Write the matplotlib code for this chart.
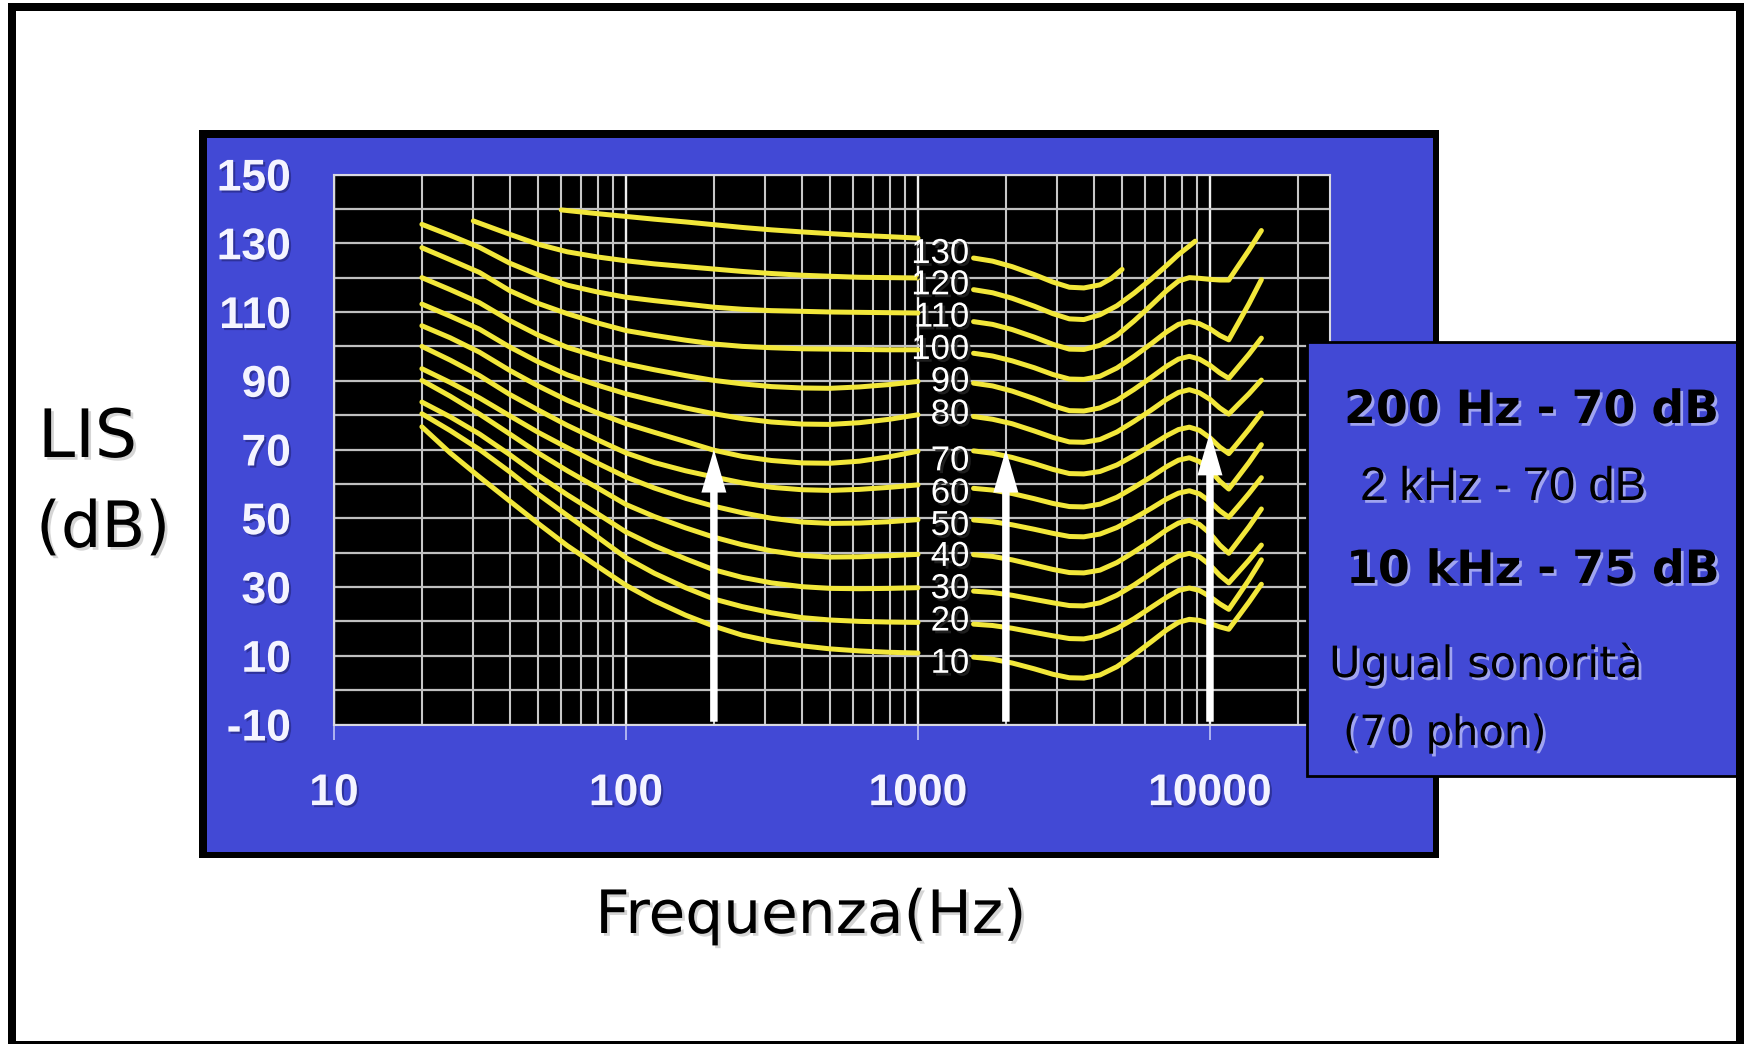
import matplotlib.pyplot as plt
import matplotlib.patheffects as pe
from matplotlib.patches import Rectangle
from matplotlib.ticker import FixedLocator, NullFormatter, LogLocator

# equal-loudness contours, phon levels
levels = [10, 20, 30, 40, 50, 60, 70, 80, 90, 100, 110, 120, 130]

# low/mid band (up to 1 kHz) and high band (from ~1.5 kHz), in dB
f_lo = [20, 25, 31.5, 40, 50, 63, 80, 100, 125, 160, 200, 250, 315, 400, 500, 630, 800, 1000]
f_hi = [1550, 1800, 2100, 2500, 2900, 3300, 3700, 4200, 4800, 5500, 6300, 7100, 7800, 8500,
        9200, 10000, 10800, 11600, 12500, 13600, 15000]

lo_10 = [76.6, 69.0, 62.0, 55.0, 48.5, 42.0, 36.0, 30.5, 26.0, 21.8, 18.6, 16.0, 14.2, 12.9, 12.0, 11.4, 11.0, 10.8]
lo_20 = [80.4, 75.5, 70.0, 63.5, 57.0, 50.8, 44.5, 38.5, 34.0, 29.8, 26.5, 24.3, 22.5, 21.1, 20.4, 20.0, 19.8, 19.7]
lo_30 = [83.8, 79.5, 74.5, 68.5, 62.5, 56.8, 51.3, 46.0, 42.0, 38.2, 35.0, 32.8, 31.2, 30.1, 29.6, 29.5, 29.6, 29.8]
lo_40 = [90.1, 85.5, 80.3, 74.5, 69.0, 63.8, 58.8, 54.0, 50.5, 47.2, 44.5, 42.3, 40.5, 39.2, 38.7, 38.8, 39.1, 39.5]
lo_50 = [93.5, 89.5, 85.0, 79.8, 75.0, 70.5, 66.0, 62.0, 58.8, 55.8, 53.5, 51.6, 50.0, 48.9, 48.5, 48.6, 49.0, 49.6]
lo_60 = [100.0, 96.0, 91.5, 86.0, 81.5, 77.0, 72.8, 69.0, 66.2, 63.8, 62.0, 60.3, 59.0, 58.3, 58.1, 58.4, 59.0, 59.7]
lo_70 = [106.0, 102.5, 98.3, 93.0, 88.5, 84.3, 80.6, 77.5, 75.0, 72.3, 69.8, 68.0, 66.8, 66.1, 66.0, 66.6, 67.9, 69.5]
lo_80 = [112.3, 108.8, 105.0, 99.8, 95.5, 91.7, 88.7, 86.2, 84.2, 82.1, 80.4, 79.0, 78.0, 77.4, 77.3, 77.8, 78.8, 80.1]
lo_90 = [120.0, 116.5, 112.7, 107.5, 103.3, 99.7, 97.0, 94.9, 93.2, 91.5, 90.1, 89.1, 88.3, 87.9, 87.8, 88.2, 88.9, 89.8]
lo_100 = [128.7, 125.2, 121.5, 116.2, 112.5, 109.5, 106.8, 104.6, 103.2, 101.8, 100.7, 100.0, 99.6, 99.3, 99.2, 99.1, 99.0, 99.0]
lo_110 = [135.5, 132.3, 128.8, 124.2, 120.8, 117.8, 115.8, 114.3, 113.3, 112.3, 111.4, 110.8, 110.4, 110.2, 110.0, 109.9, 109.8, 109.7]

hi_10 = [9.6, 9.0, 7.9, 6.2, 4.6, 3.6, 3.5, 4.4, 6.8, 10.3, 14.1, 17.5, 19.7, 20.6,
         20.3, 19.4, 18.4, 17.7, 21.4, 25.6, 30.8]
hi_20 = [19.2, 18.8, 18.0, 16.8, 15.8, 15.0, 14.9, 15.8, 17.9, 20.8, 24.1, 27.0, 29.0, 29.7,
         29.0, 27.2, 25.1, 23.5, 27.5, 32.1, 37.9]
hi_30 = [28.8, 28.4, 27.6, 26.4, 25.4, 24.6, 24.5, 25.4, 27.6, 30.6, 34.0, 37.0, 39.0, 39.8,
         38.8, 36.4, 33.4, 31.2, 34.3, 37.8, 42.2]
hi_40 = [39.4, 38.9, 37.9, 36.4, 35.1, 34.2, 34.1, 34.9, 37.1, 40.2, 43.5, 46.6, 48.6, 49.4,
         48.2, 45.6, 42.2, 39.8, 43.4, 47.5, 52.7]
hi_50 = [49.5, 49.0, 48.1, 46.8, 45.6, 44.7, 44.6, 45.4, 47.3, 50.0, 52.9, 55.6, 57.3, 58.0,
         57.1, 54.9, 52.2, 50.3, 53.5, 57.2, 61.8]
hi_60 = [58.7, 58.2, 57.2, 55.7, 54.3, 53.4, 53.3, 54.1, 56.1, 59.0, 62.1, 65.0, 66.9, 67.6,
         66.5, 64.0, 60.8, 58.5, 62.1, 66.2, 71.4]
hi_70 = [69.6, 68.9, 67.7, 65.9, 64.2, 63.0, 62.9, 63.6, 65.5, 68.3, 71.3, 74.0, 75.8, 76.5,
         75.6, 73.4, 70.7, 68.8, 72.1, 75.9, 80.6]
hi_80 = [79.6, 78.8, 77.5, 75.4, 73.5, 72.2, 72.1, 72.9, 75.1, 78.2, 81.5, 84.6, 86.6, 87.4,
         86.5, 84.6, 82.1, 80.3, 83.1, 86.2, 90.2]
hi_90 = [89.3, 88.5, 87.0, 84.8, 82.7, 81.3, 81.2, 82.1, 84.3, 87.5, 91.0, 94.2, 96.3, 97.1,
         96.3, 94.5, 92.3, 90.7, 94.0, 97.7, 102.4]
hi_100 = [98.0, 97.2, 95.8, 93.8, 91.8, 90.5, 90.4, 91.3, 93.7, 97.1, 100.8, 104.2, 106.4, 107.2,
          106.6, 105.1, 103.2, 101.9, 106.8, 112.4, 119.4]
hi_110 = [107.2, 106.4, 104.9, 102.7, 100.6, 99.2, 99.1, 100.3, 103.2, 107.4, 112.0, 116.2, 119.0, 120.0,
          119.8, 119.5, 119.3, 119.3, 123.4, 128.0, 133.7]

# the two loudest contours are shorter
f_lo_120 = [30, 40, 50, 63, 80, 100, 125, 160, 200, 250, 315, 400, 500, 630, 800, 1000]
lo_120 = [136.5, 132.6, 129.7, 127.5, 126.0, 124.9, 124.0, 123.2, 122.5, 121.8, 121.2, 120.7, 120.4, 120.1, 120.0, 119.9]
f_hi_120 = [1550, 1800, 2100, 2500, 2900, 3300, 3700, 4200, 4800, 5500, 6300, 7100, 7800, 8500, 8900]
hi_120 = [116.5, 115.6, 114.0, 111.7, 109.5, 108.0, 107.8, 109.2, 111.8, 115.5, 119.6, 123.5, 126.7, 129.2, 130.6]

f_lo_130 = [60, 80, 100, 125, 160, 200, 250, 315, 400, 500, 630, 800, 1000]
lo_130 = [139.7, 138.6, 137.8, 137.0, 136.2, 135.4, 134.6, 133.9, 133.3, 132.8, 132.3, 131.9, 131.5]
f_hi_130 = [1550, 1800, 2100, 2500, 2900, 3300, 3700, 4200, 4600, 5000]
hi_130 = [125.7, 124.8, 123.2, 120.9, 118.7, 117.2, 117.0, 117.9, 119.8, 122.4]

# vertical position of each phon tag (dB)
tag_y = [7.8, 20.1, 29.5, 38.9, 47.9, 57.3, 66.7, 80.3, 89.7, 99.1, 108.5, 117.9, 127.0]

# reference tones marked with arrows
arrow_f = [200, 2000, 10000]
arrow_db = [70, 70, 75]

x_ticks = [10, 100, 1000, 10000]
y_ticks = [-10, 10, 30, 50, 70, 90, 110, 130, 150]

W, H = 1745, 1044
BLUE = '#4249D5'
YELLOW = '#F2E73A'

plt.rcParams['font.family'] = ['Liberation Sans', 'DejaVu Sans']

fig = plt.figure(figsize=(W / 100, H / 100), dpi=100)
fig.patch.set_facecolor('white')


def box(x0, y0, x1, y1, **kw):
    r = Rectangle((x0 / W, 1 - y1 / H), (x1 - x0) / W, (y1 - y0) / H,
                  transform=fig.transFigure, **kw)
    fig.add_artist(r)


def ftext(x, y, s, **kw):
    fig.text(x / W, 1 - y / H, s, **kw)


# slide border
for x0, y0, x1, y1 in [(8, 3, 16, 1044), (8, 3, 1744, 11), (1736, 3, 1744, 1044), (8, 1041, 1744, 1044)]:
    box(x0, y0, x1, y1, fc='black', ec='none', zorder=10)

# blue panel behind the chart
box(199, 130, 1439, 858, fc='black', ec='none', zorder=-2)
box(207, 138, 1433, 852, fc=BLUE, ec='none', zorder=-1)

ax = fig.add_axes([334 / W, 1 - 724.5 / H, 996 / W, 550 / H])
ax.set_facecolor('black')
ax.set_xscale('log')
ax.set_xlim(10, 25770)
ax.set_ylim(-10, 150)

ax.xaxis.set_major_locator(FixedLocator(x_ticks))
ax.xaxis.set_minor_locator(LogLocator(base=10, subs=range(2, 10)))
ax.xaxis.set_minor_formatter(NullFormatter())
ax.set_xticklabels([str(v) for v in x_ticks])
ax.yaxis.set_major_locator(FixedLocator(y_ticks))
ax.yaxis.set_minor_locator(FixedLocator(range(0, 150, 20)))
ax.set_yticklabels([str(v) for v in y_ticks])

ax.grid(True, which='major', axis='x', color='#f0f0f0', lw=1.7)
ax.grid(True, which='minor', axis='x', color='#c8c8c8', lw=1.5)
ax.grid(True, which='both', axis='y', color='#c0c0c0', lw=1.6)
ax.set_axisbelow(True)

ax.tick_params(axis='x', which='major', length=11, width=1.3, color='#b8bcf4',
               pad=24, labelsize=32, labelcolor='#f4f4ff')
ax.tick_params(axis='x', which='minor', length=0)
ax.tick_params(axis='y', which='both', length=0, pad=31, labelsize=32, labelcolor='#f4f4ff')
for lbl in ax.get_xticklabels() + ax.get_yticklabels():
    lbl.set_fontweight('bold')
    lbl.set_path_effects([pe.SimplePatchShadow(offset=(1.5, -1.5), shadow_rgbFace='#1a1a60', alpha=0.5),
                          pe.Normal()])
for sp in ax.spines.values():
    sp.set_color('#d8d8e0')
    sp.set_linewidth(1.5)

# contours
lo_sets = [(f_lo, lo_10), (f_lo, lo_20), (f_lo, lo_30), (f_lo, lo_40), (f_lo, lo_50), (f_lo, lo_60),
           (f_lo, lo_70), (f_lo, lo_80), (f_lo, lo_90), (f_lo, lo_100), (f_lo, lo_110),
           (f_lo_120, lo_120), (f_lo_130, lo_130)]
hi_sets = [(f_hi, hi_10), (f_hi, hi_20), (f_hi, hi_30), (f_hi, hi_40), (f_hi, hi_50), (f_hi, hi_60),
           (f_hi, hi_70), (f_hi, hi_80), (f_hi, hi_90), (f_hi, hi_100), (f_hi, hi_110),
           (f_hi_120, hi_120), (f_hi_130, hi_130)]
for (fa, da), (fb, db) in zip(lo_sets, hi_sets):
    ax.plot(fa, da, color=YELLOW, lw=3.6, solid_capstyle='round', solid_joinstyle='round', zorder=3)
    ax.plot(fb, db, color=YELLOW, lw=3.6, solid_capstyle='round', solid_joinstyle='round', zorder=3)

tag_fx = [pe.SimplePatchShadow(offset=(2, -2), shadow_rgbFace='#222222', alpha=0.9), pe.Normal()]
for lev, ty in zip(levels, tag_y):
    ax.text(1500, ty, str(lev), ha='right', va='center', fontsize=25, color='white',
            path_effects=tag_fx, zorder=5)

for f, d in zip(arrow_f, arrow_db):
    ax.annotate('', xy=(f, d), xytext=(f, -9.2),
                arrowprops=dict(arrowstyle='simple,head_length=31,head_width=18,tail_width=5.4',
                                mutation_scale=1, fc='white', ec='none', lw=0,
                                shrinkA=0, shrinkB=0),
                zorder=6)

# axis titles
soft = [pe.SimplePatchShadow(offset=(2, -2), shadow_rgbFace='#888888', alpha=0.35), pe.Normal()]
ftext(38, 457, 'LIS', fontsize=48, family='DejaVu Sans', va='baseline', path_effects=soft)
ftext(36, 547, '(dB)', fontsize=46, family='DejaVu Sans', va='baseline', path_effects=soft)
ftext(811, 933, 'Frequenza(Hz)', fontsize=43, family='DejaVu Sans', ha='center', va='baseline',
      path_effects=soft)

# side note
box(1307, 342, 1737, 776, fc=BLUE, ec='black', lw=2, zorder=5)
glow = [pe.SimplePatchShadow(offset=(2, -2), shadow_rgbFace='#b8bcf8', alpha=0.8), pe.Normal()]
ftext(1344, 423, '200 Hz - 70 dB', fontsize=33, weight='bold', family='DejaVu Sans',
      va='baseline', path_effects=glow, zorder=6)
ftext(1360, 500, '2 kHz - 70 dB', fontsize=34, family='Liberation Sans',
      va='baseline', path_effects=glow, zorder=6)
ftext(1346, 583, '10 kHz - 75 dB', fontsize=33, weight='bold', family='DejaVu Sans',
      va='baseline', path_effects=glow, zorder=6)
ftext(1329, 677, 'Ugual sonorità', fontsize=31, family='DejaVu Sans',
      va='baseline', path_effects=glow, zorder=6)
ftext(1343, 745, '(70 phon)', fontsize=30, family='DejaVu Sans',
      va='baseline', path_effects=glow, zorder=6)

fig.savefig('out.png', dpi=100)
